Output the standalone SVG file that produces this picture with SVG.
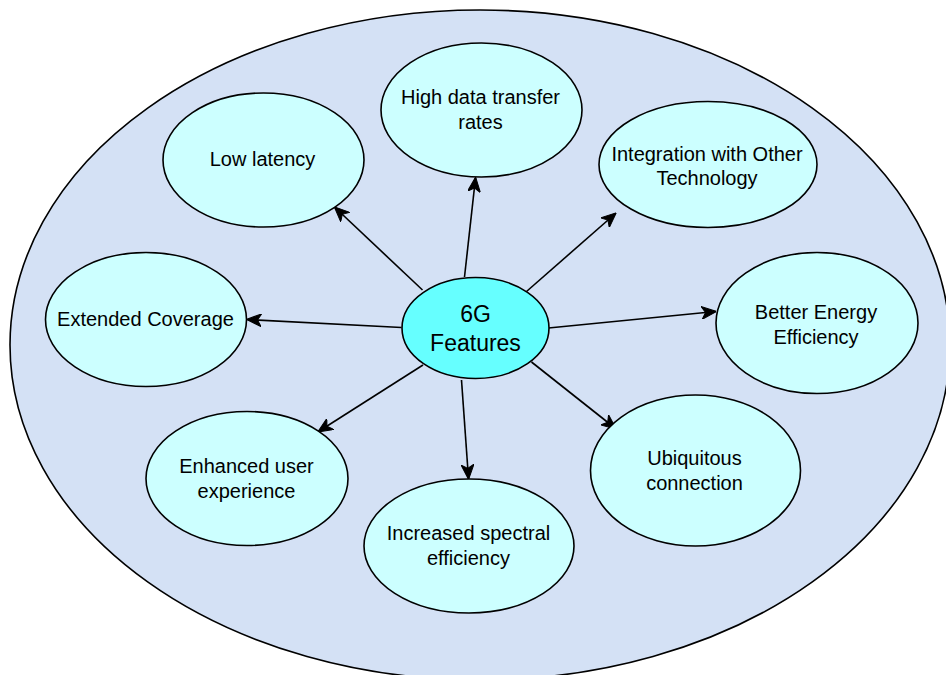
<svg xmlns="http://www.w3.org/2000/svg" width="946" height="675" viewBox="0 0 946 675">
<style>
.bg{fill:#D4E1F5;stroke:#000;stroke-width:1.6}
.n{fill:#CCFFFF;stroke:#000;stroke-width:1.6}
.c{fill:#66FFFF;stroke:#000;stroke-width:1.6}
text{font-family:"Liberation Sans",Arial,Helvetica,sans-serif;font-size:20px;fill:#000;text-anchor:middle}
.big{font-size:23px}
.e{stroke:#000;stroke-width:1.6;fill:none;marker-end:url(#ah)}
</style>
<defs>
<marker id="ah" markerUnits="userSpaceOnUse" viewBox="0 0 15 13" markerWidth="15" markerHeight="13" refX="14" refY="6.5" orient="auto">
<path d="M0,0 L15,6.5 L0,13 L4,6.5 Z" fill="#000" stroke="#000" stroke-width="1"/>
</marker>
</defs>
<rect width="946" height="675" fill="#fff"/>
<g id="background">
<ellipse class="bg" cx="480" cy="345" rx="470" ry="335"/>
</g>
<g id="connectors">
<line class="e" x1="422.5" y1="290" x2="335" y2="207.5"/>
<line class="e" x1="464.5" y1="277" x2="475.5" y2="178"/>
<line class="e" x1="526.5" y1="291.5" x2="615.5" y2="213.5"/>
<line class="e" x1="548.5" y1="328" x2="715.5" y2="311.5"/>
<line class="e" x1="531.5" y1="362" x2="615.5" y2="428.5"/>
<line class="e" x1="461.5" y1="380" x2="468.5" y2="478.5"/>
<line class="e" x1="423" y1="365" x2="318.5" y2="431.5"/>
<line class="e" x1="401.5" y1="327.5" x2="247.5" y2="319.5"/>
</g>
<g id="center">
<ellipse class="c" cx="475.5" cy="328" rx="73.5" ry="50.5"/>
<text class="big" x="475.5" y="321.5">6G</text>
<text class="big" x="475.5" y="350.5">Features</text>
</g>
<g id="low-latency">
<ellipse class="n" cx="263.5" cy="160" rx="100.5" ry="67"/>
<text x="262.5" y="165.5">Low latency</text>
</g>
<g id="high-data">
<ellipse class="n" cx="481.5" cy="110" rx="100.5" ry="67"/>
<text x="480.5" y="104">High data transfer</text>
<text x="480.5" y="128.5">rates</text>
</g>
<g id="integration">
<ellipse class="n" cx="708" cy="164.5" rx="109" ry="63"/>
<text x="707" y="160.5">Integration with Other</text>
<text x="707" y="185">Technology</text>
</g>
<g id="extended-coverage">
<ellipse class="n" cx="146" cy="319.5" rx="100.5" ry="67"/>
<text x="145.5" y="325.5">Extended Coverage</text>
</g>
<g id="energy">
<ellipse class="n" cx="817" cy="323" rx="101" ry="70.5"/>
<text x="816" y="319">Better Energy</text>
<text x="816" y="343.5">Efficiency</text>
</g>
<g id="ubiquitous">
<ellipse class="n" cx="695.5" cy="470.5" rx="105" ry="75.5"/>
<text x="694.5" y="465">Ubiquitous</text>
<text x="694.5" y="490">connection</text>
</g>
<g id="enhanced">
<ellipse class="n" cx="247" cy="478.5" rx="101" ry="67"/>
<text x="246.5" y="472.5">Enhanced user</text>
<text x="246.5" y="497.5">experience</text>
</g>
<g id="spectral">
<ellipse class="n" cx="469" cy="546" rx="105" ry="67"/>
<text x="468.5" y="539.5">Increased spectral</text>
<text x="468.5" y="564.5">efficiency</text>
</g>
</svg>
